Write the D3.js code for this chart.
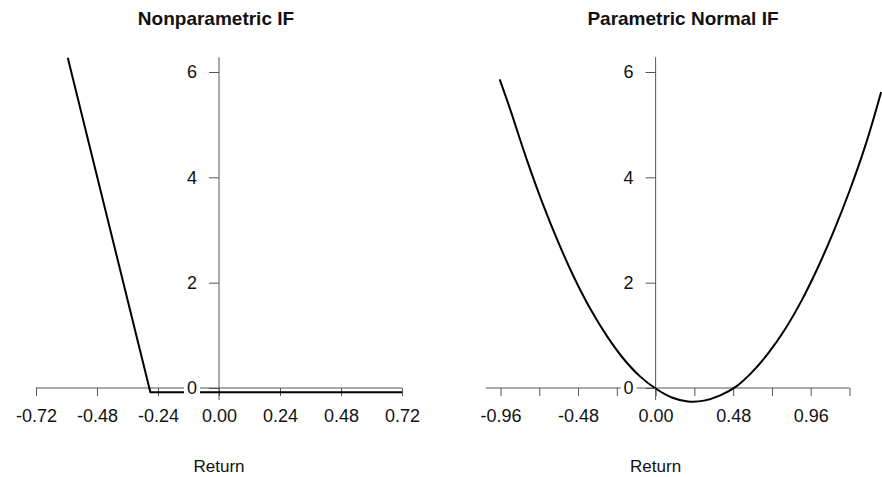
<!DOCTYPE html>
<html>
<head>
<meta charset="utf-8">
<script src="https://cdn.jsdelivr.net/npm/d3@7"></script>
<style>
  html, body { margin: 0; padding: 0; background: #fff; }
  svg { display: block; font-family: "Liberation Sans", Arial, sans-serif; }
</style>
</head>
<body>
<svg id="chart" width="882" height="477"></svg>
<script>
// ---- data ----
const titles = ["Nonparametric IF", "Parametric Normal IF"];
const xLabel = "Return";
const yTicks = [0, 2, 4, 6];

const leftTicks = [-0.72, -0.48, -0.24, 0.00, 0.24, 0.48, 0.72];
const leftLabels = ["-0.72", "-0.48", "-0.24", "0.00", "0.24", "0.48", "0.72"];
const leftX = [-0.595, -0.270, 0.72];
const leftY = [6.27, -0.08, -0.08];

const rightTicks = [-0.96, -0.72, -0.48, -0.24, 0.00, 0.24, 0.48, 0.72, 0.96, 1.20];
const rightLabels = ["-0.96", "", "-0.48", "", "0.00", "", "0.48", "", "0.96", ""];
const rightX = [-0.965, -0.9, -0.8, -0.7, -0.6, -0.5, -0.4, -0.3, -0.2, -0.1, 0.0, 0.1, 0.2, 0.3, 0.4, 0.5, 0.6, 0.7, 0.8, 0.9, 1.0, 1.1, 1.2, 1.3, 1.396];
const rightY = [5.86, 5.29, 4.36, 3.51, 2.75, 2.07, 1.48, 0.98, 0.56, 0.23, -0.01, -0.18, -0.255, -0.24, -0.14, 0.03, 0.31, 0.67, 1.11, 1.64, 2.26, 2.96, 3.74, 4.62, 5.62];

// ---- layout ----
const svg = d3.select("#chart");
const axisColor = "#555";

const y = d3.scaleLinear().domain([0, 6]).range([388, 72]);
const yAxisExtent = [-0.23, 6.28];

const panels = [
  {
    title: titles[0],
    x: d3.scaleLinear().domain([-0.72, 0.72]).range([36, 402]),
    ticks: leftTicks, labels: leftLabels,
    axisFrom: -0.72, axisTo: 0.72,
    xs: leftX, ys: leftY, smooth: false,
    titleCenter: 216
  },
  {
    title: titles[1],
    x: d3.scaleLinear().domain([-0.96, 1.2]).range([500.5, 849.5]),
    ticks: rightTicks, labels: rightLabels,
    axisFrom: -1.05, axisTo: 1.2,
    xs: rightX, ys: rightY, smooth: true,
    titleCenter: 683
  }
];

panels.forEach(p => {
  const g = svg.append("g");
  const x = p.x;

  // title
  g.append("text")
    .attr("x", p.titleCenter).attr("y", 25)
    .attr("text-anchor", "middle")
    .attr("font-size", 19).attr("font-weight", "bold")
    .attr("fill", "#111")
    .text(p.title);

  // x axis (at y = 0)
  const xAxis = d3.axisBottom(x)
    .tickValues(p.ticks)
    .tickSize(8)
    .tickPadding(13)
    .tickFormat((d, i) => p.labels[i]);
  const gx = g.append("g").attr("transform", `translate(0,${y(0)})`).call(xAxis);
  gx.select(".domain").remove();
  gx.selectAll(".tick line").attr("stroke", axisColor).attr("stroke-width", 1);
  gx.selectAll(".tick text").attr("font-size", 18).attr("fill", "#111")
    .attr("font-family", "Liberation Sans, Arial, sans-serif");
  g.append("line")
    .attr("x1", x(p.axisFrom)).attr("x2", x(p.axisTo))
    .attr("y1", y(0)).attr("y2", y(0))
    .attr("stroke", axisColor).attr("stroke-width", 1);

  // y axis (at x = 0)
  g.append("line")
    .attr("x1", x(0)).attr("x2", x(0))
    .attr("y1", y(yAxisExtent[0])).attr("y2", y(yAxisExtent[1]))
    .attr("stroke", axisColor).attr("stroke-width", 1);
  const yAxis = d3.axisLeft(y).tickValues(yTicks).tickSize(10).tickPadding(12).tickFormat(d3.format("d"));
  const gy = g.append("g").attr("transform", `translate(${x(0)},0)`).call(yAxis);
  gy.select(".domain").remove();
  gy.selectAll(".tick line").attr("stroke", axisColor).attr("stroke-width", 1);
  gy.selectAll(".tick text").attr("font-size", 18).attr("fill", "#111")
    .attr("font-family", "Liberation Sans, Arial, sans-serif");

  // data line
  const pts = p.xs.map((v, i) => [v, p.ys[i]]);
  const line = d3.line().x(d => x(d[0])).y(d => y(d[1]))
    .curve(p.smooth ? d3.curveCatmullRom : d3.curveLinear);
  g.append("path").datum(pts)
    .attr("d", line)
    .attr("fill", "none").attr("stroke", "#000")
    .attr("stroke-width", 2).attr("stroke-linejoin", "round");

  // white box behind the "0" y tick label, drawn over lines
  gy.raise();
  gy.selectAll(".tick").filter(d => d === 0).each(function() {
    const t = d3.select(this).select("text");
    const bb = t.node().getBBox();
    d3.select(this).insert("rect", "text")
      .attr("x", bb.x - 3).attr("y", bb.y + 3)
      .attr("width", bb.width + 6).attr("height", bb.height - 4)
      .attr("fill", "#fff");
  });

  // x label
  g.append("text")
    .attr("x", x(0)).attr("y", 472)
    .attr("text-anchor", "middle")
    .attr("font-size", 17).attr("fill", "#111")
    .text(xLabel);
});
</script>
</body>
</html>
